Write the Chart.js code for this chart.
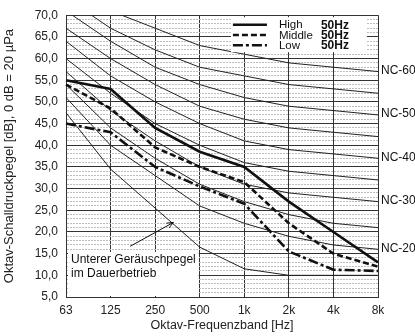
<!DOCTYPE html>
<html>
<head>
<meta charset="utf-8">
<script src="https://cdn.jsdelivr.net/npm/chart.js@4.4.0/dist/chart.umd.min.js"></script>
<style>
    html, body { margin: 0; padding: 0; background: #fff; }
</style>
</head>
<body>
<canvas id="myChart" width="415" height="336"></canvas>
<script>
// octave bands
const BANDS = ['63', '125', '250', '500', '1k', '2k', '4k', '8k'];

// measured curves (dB)
const HIGH = [55, 53, 44, 38.5, 35, 27, 20, 13];
const MIDDLE = [54, 48.5, 39.5, 35, 31.5, 22, 15, 12];
const LOW = [45, 43, 35, 30.5, 26.5, 15.5, 11.3, 11];
const LOWER_LIMIT = [47.5, 34.5, 25.5, 16.5, 11.5, 10, 10, 10];

const SERIES_NAMES = ['High', 'Middle', 'Low'];
const SERIES_FREQ = ['50Hz', '50Hz', '50Hz'];

// NC reference curves
const NC20 = [51, 40, 33, 26, 22, 19, 17, 16];
const NC25 = [54, 44, 37, 31, 27, 24, 22, 21];
const NC30 = [57, 48, 41, 35, 31, 29, 28, 27];
const NC35 = [60, 52, 45, 40, 36, 34, 33, 32];
const NC40 = [64, 56, 50, 45, 41, 39, 38, 37];
const NC45 = [67, 60, 54, 49, 46, 44, 43, 42];
const NC50 = [71, 64, 58, 54, 51, 49, 48, 47];
const NC55 = [74, 67, 62, 58, 56, 54, 53, 52];
const NC60 = [77, 71, 67, 63, 61, 59, 58, 57];
const NC_LEVELS = [20, 25, 30, 35, 40, 45, 50, 55, 60];
const NC_CURVES = [NC20, NC25, NC30, NC35, NC40, NC45, NC50, NC55, NC60];

const NOTE_LINES = ['Unterer Geräuschpegel', 'im Dauerbetrieb'];

const DASHES = [[], [6, 3], [10, 3, 3, 3]];
const FONT = "'Liberation Sans', Arial, sans-serif";

Chart.defaults.font.family = FONT;
Chart.defaults.color = '#222';

const datasets = [];
[HIGH, MIDDLE, LOW].forEach(function (data, i) {
    datasets.push({
        label: SERIES_NAMES[i],
        data: data,
        borderColor: '#111',
        borderWidth: 2.6,
        borderDash: DASHES[i],
        pointRadius: 0,
        fill: false
    });
});
datasets.push({
    label: 'Unterer Geräuschpegel',
    data: LOWER_LIMIT,
    borderColor: '#222',
    borderWidth: 1,
    pointRadius: 0,
    fill: false
});
NC_CURVES.forEach(function (data, i) {
    datasets.push({
        label: 'NC-' + NC_LEVELS[i],
        data: data,
        borderColor: '#222',
        borderWidth: 1,
        pointRadius: 0,
        fill: false
    });
});

const overlay = {
    id: 'overlay',
    afterDatasetsDraw(chart) {
        const ctx = chart.ctx;
        const xs = chart.scales.x;
        const ys = chart.scales.y;
        const area = chart.chartArea;
        ctx.save();

        // legend box
        const lx = xs.getPixelForValue(3.7);
        const rx = xs.getPixelForValue(6.75);
        ctx.fillStyle = '#fff';
        ctx.fillRect(lx, area.top + 2, rx - lx, 35);
        SERIES_NAMES.forEach(function (name, i) {
            const yy = area.top + 9.5 + i * 10.3;
            ctx.strokeStyle = '#111';
            ctx.lineWidth = 2.6;
            ctx.setLineDash(DASHES[i]);
            ctx.beginPath();
            ctx.moveTo(lx + 2, yy);
            ctx.lineTo(lx + 36, yy);
            ctx.stroke();
            ctx.setLineDash([]);
            ctx.fillStyle = '#111';
            ctx.textBaseline = 'middle';
            ctx.textAlign = 'left';
            ctx.font = '11.5px ' + FONT;
            ctx.fillText(name, lx + 48, yy + 0.5);
            ctx.font = 'bold 12px ' + FONT;
            ctx.fillText(SERIES_FREQ[i], lx + 90, yy + 0.5);
        });

        // note box
        const nr = xs.getPixelForValue(3) - 1;
        const nt = ys.getPixelForValue(15.4);
        ctx.fillStyle = '#fff';
        ctx.fillRect(area.left + 2, nt, nr - area.left - 2, area.bottom - 1 - nt);
        ctx.fillStyle = '#111';
        ctx.font = '12px ' + FONT;
        ctx.textAlign = 'left';
        ctx.textBaseline = 'middle';
        NOTE_LINES.forEach(function (t, i) {
            ctx.fillText(t, area.left + 5, nt + 8 + i * 14);
        });

        // arrow to the lower curve
        const ax0 = xs.getPixelForValue(1.44), ay0 = ys.getPixelForValue(16.7);
        const ax1 = xs.getPixelForValue(2.41), ay1 = ys.getPixelForValue(22.2);
        const ang = Math.atan2(ay1 - ay0, ax1 - ax0);
        ctx.strokeStyle = '#111';
        ctx.lineWidth = 1;
        ctx.beginPath();
        ctx.moveTo(ax0, ay0);
        ctx.lineTo(ax1, ay1);
        ctx.moveTo(ax1 - 7 * Math.cos(ang - 0.4), ay1 - 7 * Math.sin(ang - 0.4));
        ctx.lineTo(ax1, ay1);
        ctx.lineTo(ax1 - 7 * Math.cos(ang + 0.4), ay1 - 7 * Math.sin(ang + 0.4));
        ctx.stroke();

        // NC labels at the right
        ctx.font = '12px ' + FONT;
        ctx.fillStyle = '#111';
        NC_LEVELS.forEach(function (lvl, i) {
            if (lvl % 10 !== 0) return;
            const data = NC_CURVES[i];
            ctx.fillText('NC-' + lvl, area.right + 3, ys.getPixelForValue(data[data.length - 1]) - 1);
        });
        ctx.restore();
    }
};

const ctx = document.getElementById('myChart').getContext('2d');
const myChart = new Chart(ctx, {
    type: 'line',
    data: {
        labels: BANDS,
        datasets: datasets
    },
    options: {
        responsive: false,
        animation: false,
        layout: {
            padding: { left: 0, right: 37, top: 13, bottom: 0 }
        },
        plugins: {
            legend: { display: false },
            tooltip: { enabled: false }
        },
        scales: {
            x: {
                grid: { color: '#333', lineWidth: 1, drawTicks: false },
                border: { color: '#333' },
                ticks: { padding: 6, font: { size: 12 }, color: '#222' },
                title: {
                    display: true,
                    text: 'Oktav-Frequenzband [Hz]',
                    font: { size: 12.5 },
                    color: '#222',
                    padding: { top: 0, bottom: 3 }
                },
                afterFit: function (s) { s.height = 39; }
            },
            y: {
                min: 5,
                max: 70,
                grid: {
                    drawTicks: false,
                    lineWidth: 1,
                    color: function (c) {
                        return c.tick && c.tick.value % 5 !== 0 ? '#bdbdbd' : '#333';
                    }
                },
                border: {
                    color: '#333',
                    dash: function (c) {
                        return c.tick && c.tick.value % 5 !== 0 ? [2, 1] : [];
                    }
                },
                ticks: {
                    stepSize: 1,
                    autoSkip: false,
                    padding: 8,
                    font: { size: 12 },
                    color: '#222',
                    callback: function (v) {
                        return v % 5 === 0 ? v.toFixed(1).replace('.', ',') : '';
                    }
                },
                title: {
                    display: true,
                    text: 'Oktav-Schalldruckpegel [dB], 0 dB = 20 µPa',
                    font: { size: 13 },
                    color: '#222',
                    padding: { top: 2, bottom: 0 }
                },
                afterFit: function (s) { s.width = 66; }
            }
        }
    },
    plugins: [overlay]
});
</script>
</body>
</html>
